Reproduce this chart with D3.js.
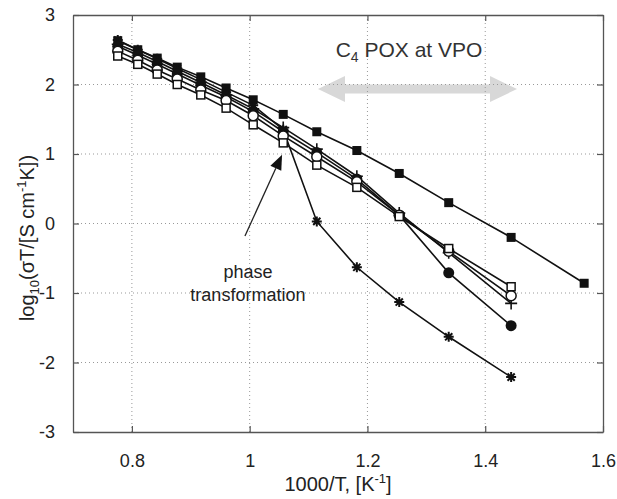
<!DOCTYPE html>
<html>
<head>
<meta charset="utf-8">
<script src="https://cdn.jsdelivr.net/npm/d3@7"></script>
<style>
  html, body { margin: 0; padding: 0; background: #fff; }
  svg { display: block; font-family: "Liberation Sans", Arial, Helvetica, sans-serif; }
</style>
</head>
<body>
<svg id="chart" width="617" height="499"></svg>
<script>
// ---- data ----
const xValues = [0.776, 0.810, 0.843, 0.877, 0.917, 0.960, 1.006, 1.057, 1.114, 1.182, 1.254, 1.338, 1.444, 1.568];

const filledSquare = [2.63, 2.50, 2.38, 2.25, 2.11, 1.95, 1.78, 1.57, 1.32, 1.05, 0.72, 0.30, -0.20, -0.86];
const asteriskSeries = [2.64, 2.50, 2.37, 2.23, 2.07, 1.89, 1.70, 1.35, 0.03, -0.63, -1.13, -1.63, -2.21];
const plusSeries = [2.58, 2.46, 2.33, 2.19, 2.03, 1.85, 1.65, 1.38, 1.07, 0.68, 0.15, -0.42, -1.15];
const filledCircle = [2.55, 2.42, 2.29, 2.15, 1.99, 1.82, 1.61, 1.32, 1.02, 0.64, 0.12, -0.71, -1.47];
const openCircle = [2.48, 2.35, 2.21, 2.08, 1.92, 1.77, 1.55, 1.26, 0.96, 0.60, 0.12, -0.40, -1.04];
const openSquare = [2.41, 2.29, 2.15, 2.00, 1.85, 1.66, 1.42, 1.16, 0.84, 0.52, 0.10, -0.36, -0.91];

const xTicks = [0.8, 1.0, 1.2, 1.4, 1.6];
const xTickLabels = ["0.8", "1", "1.2", "1.4", "1.6"];
const yTicks = [-3, -2, -1, 0, 1, 2, 3];
const yTickLabels = ["-3", "-2", "-1", "0", "1", "2", "3"];
const yGrid = [-2, -1, 0, 1, 2];
const xGrid = [0.8, 1.0, 1.2, 1.4];

// annotations in data units
const vpoArrow = { x0: 1.116, x1: 1.454, y: 1.935 };
const vpoLabel = { x: 1.146, y: 2.40 };
const phaseArrow = { x0: 0.992, y0: -0.18, x1: 1.055, y1: 0.99 };
const phaseLabel = { x: 0.997, y: -0.79 };

// ---- layout ----
const W = 617, H = 499;
const margin = { left: 73, right: 14, top: 15, bottom: 67 };
const svg = d3.select("#chart");
const x = d3.scaleLinear().domain([0.7, 1.6]).range([margin.left, W - margin.right]);
const y = d3.scaleLinear().domain([-3, 3]).range([H - margin.bottom, margin.top]);

const frameColor = "#555";

// gray double arrow (drawn under grid)
(function () {
  const xa = x(vpoArrow.x0), xb = x(vpoArrow.x1), yc = y(vpoArrow.y);
  const bh = 4.5, hh = 13, hl = 27;
  const pts = [
    [xa, yc], [xa + hl, yc - hh], [xa + hl, yc - bh], [xb - hl, yc - bh], [xb - hl, yc - hh],
    [xb, yc], [xb - hl, yc + hh], [xb - hl, yc + bh], [xa + hl, yc + bh], [xa + hl, yc + hh]
  ];
  svg.append("path").attr("d", "M" + pts.map(p => p.join(",")).join("L") + "Z")
    .attr("fill", "#d8d8d8");
})();

// grid
const grid = svg.append("g");
grid.selectAll("line.gx").data(xGrid).enter().append("line")
  .attr("x1", d => x(d)).attr("x2", d => x(d))
  .attr("y1", y(-3)).attr("y2", y(3))
  .attr("stroke", "#999").attr("stroke-width", 1).attr("stroke-dasharray", "1,3");
grid.selectAll("line.gy").data(yGrid).enter().append("line")
  .attr("y1", d => y(d)).attr("y2", d => y(d))
  .attr("x1", x(0.7)).attr("x2", x(1.6))
  .attr("stroke", "#999").attr("stroke-width", 1).attr("stroke-dasharray", "1,3");

// axes (ticks inward, mirrored)
const tickLen = 6;
const axB = svg.append("g").attr("transform", `translate(0,${y(-3)})`)
  .call(d3.axisBottom(x).tickValues(xTicks).tickSizeInner(-tickLen).tickSizeOuter(0)
    .tickPadding(22).tickFormat((d, i) => xTickLabels[i]));
const axT = svg.append("g").attr("transform", `translate(0,${y(3)})`)
  .call(d3.axisTop(x).tickValues(xTicks).tickSizeInner(-tickLen).tickSizeOuter(0).tickFormat(""));
const axL = svg.append("g").attr("transform", `translate(${x(0.7)},0)`)
  .call(d3.axisLeft(y).tickValues(yTicks).tickSizeInner(-tickLen).tickSizeOuter(0)
    .tickPadding(18).tickFormat((d, i) => yTickLabels[i]));
const axR = svg.append("g").attr("transform", `translate(${x(1.6)},0)`)
  .call(d3.axisRight(y).tickValues(yTicks).tickSizeInner(-tickLen).tickSizeOuter(0).tickFormat(""));
[axB, axT, axL, axR].forEach(a => {
  a.select(".domain").attr("stroke", frameColor).attr("stroke-width", 1.3);
  a.selectAll(".tick line").attr("stroke", frameColor).attr("stroke-width", 1.2);
  a.selectAll(".tick text").attr("fill", "#222").attr("font-size", 18)
    .attr("font-family", "'Liberation Sans', Arial, sans-serif");
});
axB.selectAll(".tick text").attr("dy", "0.71em");

// axis titles
const xt = svg.append("text").attr("x", (x(0.7) + x(1.6)) / 2).attr("y", 491)
  .attr("text-anchor", "middle").attr("font-size", 20).attr("fill", "#222");
xt.append("tspan").text("1000/T, [K");
xt.append("tspan").attr("font-size", 13).attr("dy", -8).text("-1");
xt.append("tspan").attr("dy", 8).text("]");

const yt = svg.append("text").attr("transform", `translate(34,238) rotate(-90)`)
  .attr("text-anchor", "middle").attr("font-size", 20).attr("fill", "#222");
yt.append("tspan").text("log");
yt.append("tspan").attr("font-size", 13).attr("dy", 5).text("10");
yt.append("tspan").attr("dy", -5).text("(σT/[S cm");
yt.append("tspan").attr("font-size", 13).attr("dy", -8).text("-1");
yt.append("tspan").attr("dy", 8).text("K])");

// annotation text
const vt = svg.append("text").attr("x", x(vpoLabel.x)).attr("y", y(vpoLabel.y))
  .attr("font-size", 21).attr("fill", "#333");
vt.append("tspan").text("C");
vt.append("tspan").attr("font-size", 14).attr("dy", 5).text("4");
vt.append("tspan").attr("dy", -5).text(" POX at VPO");

svg.append("text").attr("x", x(phaseLabel.x)).attr("y", y(phaseLabel.y))
  .attr("text-anchor", "middle").attr("font-size", 18).attr("fill", "#222")
  .selectAll("tspan").data(["phase", "transformation"]).enter().append("tspan")
  .attr("x", x(phaseLabel.x)).attr("dy", (d, i) => i === 0 ? 0 : 23).text(d => d);

// phase arrow
(function () {
  const x0 = x(phaseArrow.x0), y0 = y(phaseArrow.y0), x1 = x(phaseArrow.x1), y1 = y(phaseArrow.y1);
  const ang = Math.atan2(y1 - y0, x1 - x0);
  const hl = 15, hw = 6;
  const bx = x1 - hl * Math.cos(ang), by = y1 - hl * Math.sin(ang);
  svg.append("line").attr("x1", x0).attr("y1", y0).attr("x2", bx).attr("y2", by)
    .attr("stroke", "#222").attr("stroke-width", 1.3);
  const px = -Math.sin(ang) * hw, py = Math.cos(ang) * hw;
  svg.append("path").attr("d", `M${x1},${y1}L${bx + px},${by + py}L${bx - px},${by - py}Z`).attr("fill", "#111");
})();

// series
const series = [
  { vals: filledSquare, marker: "sqF" },
  { vals: asteriskSeries, marker: "ast" },
  { vals: plusSeries, marker: "plus" },
  { vals: filledCircle, marker: "cirF" },
  { vals: openCircle, marker: "cirO" },
  { vals: openSquare, marker: "sqO" }
];
const line = d3.line().x(d => x(d[0])).y(d => y(d[1]));
const lineG = svg.append("g");
series.forEach(s => {
  const pts = s.vals.map((v, i) => [xValues[i], v]);
  lineG.append("path").datum(pts).attr("d", line).attr("fill", "none")
    .attr("stroke", "#111").attr("stroke-width", 1.6);
});
const markG = svg.append("g");
series.forEach(s => {
  const pts = s.vals.map((v, i) => [xValues[i], v]);
  const g = markG.selectAll(null).data(pts).enter().append("g")
    .attr("transform", d => `translate(${x(d[0])},${y(d[1])})`);
  if (s.marker === "sqF") {
    g.append("rect").attr("x", -4.5).attr("y", -4.5).attr("width", 9).attr("height", 9).attr("fill", "#111");
  } else if (s.marker === "sqO") {
    g.append("rect").attr("x", -4).attr("y", -4).attr("width", 8).attr("height", 8)
      .attr("fill", "#fff").attr("stroke", "#111").attr("stroke-width", 1.5);
  } else if (s.marker === "cirF") {
    g.append("circle").attr("r", 5.5).attr("fill", "#111");
  } else if (s.marker === "cirO") {
    g.append("circle").attr("r", 5).attr("fill", "#fff").attr("stroke", "#111").attr("stroke-width", 1.5);
  } else if (s.marker === "plus") {
    g.append("path").attr("d", "M-6,0H6M0,-6V6").attr("stroke", "#111").attr("stroke-width", 1.6);
  } else if (s.marker === "ast") {
    g.append("path").attr("d", "M-5,0H5M0,-5V5M-3.6,-3.6L3.6,3.6M-3.6,3.6L3.6,-3.6")
      .attr("stroke", "#111").attr("stroke-width", 2);
  }
});
</script>
</body>
</html>
